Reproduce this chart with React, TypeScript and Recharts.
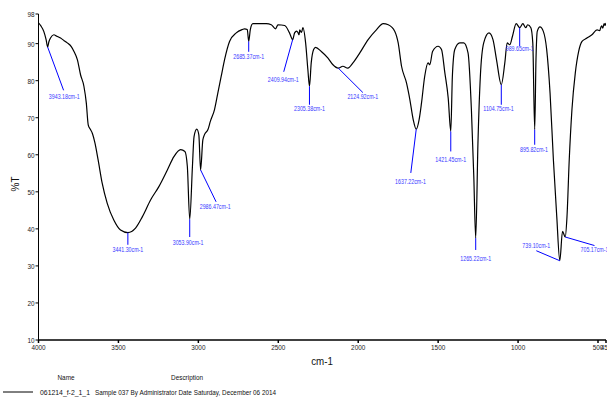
import React from "react";
import { LineChart, Line, XAxis, YAxis, ReferenceLine, ReferenceDot } from "recharts";

const wavenumbers = [
  4000, 3985, 3967, 3952, 3943, 3935, 3925, 3904, 3885, 3862, 3840, 3820, 3795, 3778, 3757, 3737,
  3716, 3701, 3689, 3675, 3664, 3647, 3627, 3602, 3570, 3529, 3487, 3441, 3393, 3350, 3299, 3247,
  3194, 3153, 3111, 3084, 3069, 3054, 3037, 3027, 3010, 2997, 2986, 2972, 2961, 2940, 2925, 2899,
  2878, 2857, 2836, 2805, 2763, 2725, 2711, 2694, 2685, 2675, 2659, 2620, 2575, 2544, 2517, 2502,
  2460, 2430, 2410, 2398, 2385, 2375, 2370, 2366, 2355, 2346, 2329, 2315, 2305, 2294, 2279, 2267,
  2231, 2189, 2158, 2125, 2096, 2065, 2033, 1990, 1938, 1885, 1844, 1812, 1771, 1750, 1729, 1698,
  1677, 1656, 1637, 1619, 1604, 1584, 1563, 1552, 1535, 1500, 1479, 1458, 1437, 1421, 1411, 1396,
  1365, 1340, 1313, 1292, 1277, 1265, 1251, 1236, 1215, 1182, 1157, 1135, 1105, 1083, 1068, 1052,
  1035, 1012, 990, 970, 952, 940, 920, 908, 896, 888, 880, 863, 842, 821, 800, 779, 758, 739, 722,
  705, 694, 680, 663, 642, 621, 600, 569, 538, 506, 490, 478, 470, 462, 456, 450,
];

const transmittance = [
  95.6, 94.8, 93.3, 91.0, 89.1, 90.5, 91.5, 92.4, 92.0, 91.5, 90.8, 90.2, 89.2, 87.9, 85.7, 81.6,
  78.5, 74.0, 68.1, 66.8, 65.9, 63.2, 58.6, 52.4, 46.9, 42.4, 39.7, 39.0, 40.2, 43.3, 47.8, 51.4,
  55.9, 59.5, 61.4, 60.9, 56.9, 42.6, 56.9, 64.9, 66.9, 65.4, 55.9, 64.0, 65.5, 66.8, 69.0, 72.2,
  76.7, 81.2, 85.7, 90.6, 92.9, 93.8, 94.0, 93.8, 90.6, 93.8, 95.4, 95.4, 95.4, 95.1, 94.0, 95.1,
  94.9, 92.9, 91.1, 92.9, 93.4, 92.8, 92.4, 93.7, 93.0, 94.3, 90.2, 83.0, 78.5, 84.8, 88.4, 89.0,
  87.9, 86.1, 84.3, 83.4, 83.9, 83.4, 84.8, 87.5, 91.1, 93.8, 95.4, 95.1, 93.3, 90.2, 83.9, 79.4,
  74.9, 69.5, 66.9, 69.5, 74.0, 81.2, 84.8, 84.3, 87.9, 89.3, 88.4, 82.1, 75.3, 66.3, 81.2, 88.4,
  90.2, 90.2, 87.5, 72.2, 54.1, 37.5, 63.2, 81.2, 90.2, 92.9, 91.1, 85.7, 78.9, 84.8, 90.2, 89.7,
  92.0, 95.4, 94.3, 95.4, 94.3, 95.1, 94.3, 90.2, 66.8, 85.7, 93.3, 94.5, 93.3, 88.4, 76.7, 58.6, 43.3, 31.4, 39.3,
  37.8, 43.3, 58.6, 72.2, 82.1, 87.9, 90.6, 91.5, 92.4, 93.7, 93.5, 94.8, 94.2, 95.4, 94.9, 95.6,
];

const xTicks = [4000, 3500, 3000, 2500, 2000, 1500, 1000, 500, 450];
const yTicks = [10, 20, 30, 40, 50, 60, 70, 80, 90, 98];

// peak annotations (data units)
const peakLabels = [
  "3943.18cm-1", "3441.30cm-1", "3053.90cm-1", "2986.47cm-1", "2685.37cm-1", "2409.94cm-1",
  "2305.38cm-1", "2124.92cm-1", "1637.22cm-1", "1421.45cm-1", "1265.22cm-1", "1104.75cm-1",
  "989.65cm-1", "895.82cm-1", "739.10cm-1", "705.17cm-1",
];
const peakWn = [3943, 3441, 3054, 2986, 2685, 2410, 2305, 2125, 1637, 1421, 1265, 1105, 990, 896, 739, 705];
const peakT = [89.1, 39.0, 42.6, 55.9, 90.6, 91.1, 78.5, 83.4, 66.9, 66.3, 37.5, 78.9, 94.3, 66.8, 31.4, 37.8];
const endWn = [3843, 3441, 3054, 2889, 2685, 2466, 2305, 1971, 1671, 1421, 1265, 1105, 990, 896, 886, 522];
const endT = [77.4, 35.7, 37.8, 47.3, 87.8, 82.4, 73.5, 76.8, 55.1, 60.9, 34.3, 73.5, 89.3, 62.7, 34.1, 35.5];
const labelWn = [3839, 3441, 3064, 2895, 2685, 2469, 2305, 1971, 1673, 1421, 1265, 1122, 990, 900, 886, 522];
const labelT = [75.8, 34.3, 36.3, 45.9, 86.6, 80.3, 72.4, 75.6, 52.8, 58.6, 32.1, 72.4, 88.6, 61.4, 35.4, 34.3];

const legendName = "061214_f-2_1_1";
const legendDesc = "Sample 037 By Administrator Date Saturday, December 06 2014";

const data = wavenumbers.map((wn, i) => ({ wn, t: transmittance[i] }));

const FONT = "'Liberation Sans', Arial, sans-serif";

const XTick = (props: any) => {
  const { x, y, payload } = props;
  return (
    <g transform={`translate(${x},${y})`}>
      <text transform="scale(0.8,1)" textAnchor="middle" dy="0.75em" fontSize={8} fill="#222" fontFamily={FONT}>
        {payload.value}
      </text>
    </g>
  );
};

const YTick = (props: any) => {
  const { x, y, payload } = props;
  return (
    <g transform={`translate(${x},${y})`}>
      <text transform="scale(0.8,1)" textAnchor="end" dy="0.36em" fontSize={8} fill="#222" fontFamily={FONT}>
        {payload.value}
      </text>
    </g>
  );
};

export default function App() {
  return (
    <div style={{ position: "absolute", left: 0, top: 0, width: 607, height: 399, background: "#fff", overflow: "hidden" }}>
      <LineChart width={607} height={399} data={data} margin={{ top: 14, right: 1, left: 0, bottom: 0 }}>
        <XAxis
          dataKey="wn"
          type="number"
          domain={[450, 4000]}
          reversed
          ticks={xTicks}
          interval={0}
          allowDataOverflow
          height={59}
          tickSize={3}
          tickMargin={1}
          stroke="#000"
          strokeWidth={1.5}
          tick={<XTick />}
        />
        <YAxis
          type="number"
          domain={[10, 98]}
          ticks={yTicks}
          interval={0}
          allowDataOverflow
          width={38.5}
          tickSize={3}
          tickMargin={1}
          stroke="#000"
          tick={<YTick />}
        />
        <Line
          dataKey="t"
          type="monotone"
          stroke="#000"
          strokeWidth={1.2}
          dot={false}
          isAnimationActive={false}
        />
        {peakLabels.map((lab, i) => (
          <ReferenceLine
            key={"l" + i}
            segment={[{ x: peakWn[i], y: peakT[i] }, { x: endWn[i], y: endT[i] }]}
            stroke="#0000ff"
            strokeWidth={1}
            ifOverflow="visible"
          />
        ))}
        {peakLabels.map((lab, i) => (
          <ReferenceDot
            key={"d" + i}
            x={labelWn[i]}
            y={labelT[i]}
            r={1}
            ifOverflow="visible"
            shape={(p: any) => (
              <g transform={`translate(${p.cx},${p.cy})`}>
                <text
                  transform="scale(0.78,1)"
                  textAnchor="middle"
                  dy="0.36em"
                  fontSize={6.8}
                  fill="#3a3aff"
                  fontFamily={FONT}
                >
                  {lab}
                </text>
              </g>
            )}
          />
        ))}
      </LineChart>
      <svg width={607} height={399} style={{ position: "absolute", left: 0, top: 0, pointerEvents: "none" }}>
        <text x={15} y={184} transform="rotate(-90 15 184)" textAnchor="middle" dominantBaseline="central" fontSize={10} fontFamily={FONT} fill="#111">%T</text>
        <g transform="translate(322,361)">
          <text transform="scale(0.85,1)" textAnchor="middle" dy="0.36em" fontSize={11.5} fontFamily={FONT} fill="#111">cm-1</text>
        </g>
        <g transform="translate(66,377)">
          <text transform="scale(0.82,1)" textAnchor="middle" dy="0.36em" fontSize={7.8} fontFamily={FONT} fill="#111">Name</text>
        </g>
        <g transform="translate(187,377)">
          <text transform="scale(0.82,1)" textAnchor="middle" dy="0.36em" fontSize={7.8} fontFamily={FONT} fill="#111">Description</text>
        </g>
        <line x1={3} x2={33} y1={392} y2={392} stroke="#000" strokeWidth={1} />
        <text x={40} y={392} dy="0.36em" fontSize={7.8} fontFamily={FONT} fill="#111" textLength={50} lengthAdjust="spacingAndGlyphs">{legendName}</text>
        <text x={95} y={392} dy="0.36em" fontSize={7.8} fontFamily={FONT} fill="#111" textLength={181} lengthAdjust="spacingAndGlyphs">{legendDesc}</text>
      </svg>
    </div>
  );
}
